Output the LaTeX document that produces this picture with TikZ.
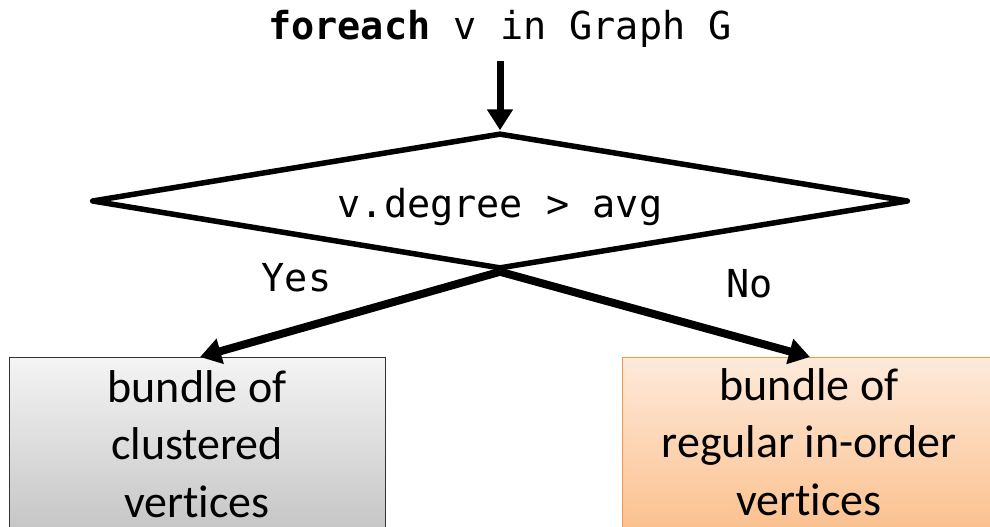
\documentclass[tikz,border=0pt]{standalone}
\usepackage{fontspec}
\setmainfont{Carlito}[Ligatures=NoCommon]
\setmonofont{DejaVu Sans Mono}
\usetikzlibrary{arrows.meta,shapes.geometric}

\definecolor{graytop}{HTML}{F4F4F4}
\definecolor{graybot}{HTML}{BEBEBE}
\definecolor{orangetop}{HTML}{FDEADB}
\definecolor{orangebot}{HTML}{FBBA82}
\definecolor{orangeline}{HTML}{F79646}

\tikzset{
  codetext/.style={font=\fontsize{38.5}{46}\selectfont\ttfamily, inner sep=0pt},
  boxtext/.style={font=\fontsize{46}{57.5}\selectfont, align=center, inner sep=0pt, anchor=north},
  decision/.style={draw=black, line width=5.5pt, shape=diamond, inner sep=0pt,
    minimum width=817pt, minimum height=136pt, line join=round},
  grayblock/.style={draw=black!80, line width=1.4pt, anchor=north west, inner sep=0pt,
    minimum width=376pt, minimum height=200pt, top color=graytop, bottom color=graybot},
  orangeblock/.style={draw=orangeline, line width=1.4pt, anchor=north west, inner sep=0pt,
    minimum width=376pt, minimum height=200pt, top color=orangetop, bottom color=orangebot},
  flow/.style={line width=7pt, -{Triangle[length=21pt,width=25pt]}},
  branch/.style={flow, line width=8pt},
}

\begin{document}
\begin{tikzpicture}[x=1pt,y=-1pt]
  \useasboundingbox (0,0) rectangle (990,527);
  \clip (0,0) rectangle (990,527);
  \fill[white] (0,0) rectangle (990,527);

  % loop header
  \node[codetext, anchor=base] (loop) at (500,40) {\textbf{foreach} v in Graph G};

  % decision diamond and its condition
  \node[decision] (dec) at (500,201) {};
  \node[codetext, anchor=base] (cond) at (500,217) {v.degree > avg};

  % branch labels
  \node[codetext, anchor=base] (yes) at (296.5,291) {Yes};
  \node[codetext, anchor=base] (no) at (749.5,297) {No};

  % target blocks
  \node[grayblock] (clustered) at (9,357) {};
  \node[orangeblock] (regular) at (622,357) {};
  \node[boxtext] (clusteredtext) at (197,361.75)
    {\strut bundle of\\\strut clustered\\\strut vertices};
  \node[boxtext] (regulartext) at (809,359.75)
    {\strut bundle of\\\strut regular in-order\\\strut vertices};

  % connectors
  \draw[flow, shorten <=13pt] (loop.south) -- (dec.north);
  \draw[branch] (dec.south) -- (clustered.north -| 200,0);
  \draw[branch] (dec.south) -- (regular.north -| 810,0);
\end{tikzpicture}
\end{document}
